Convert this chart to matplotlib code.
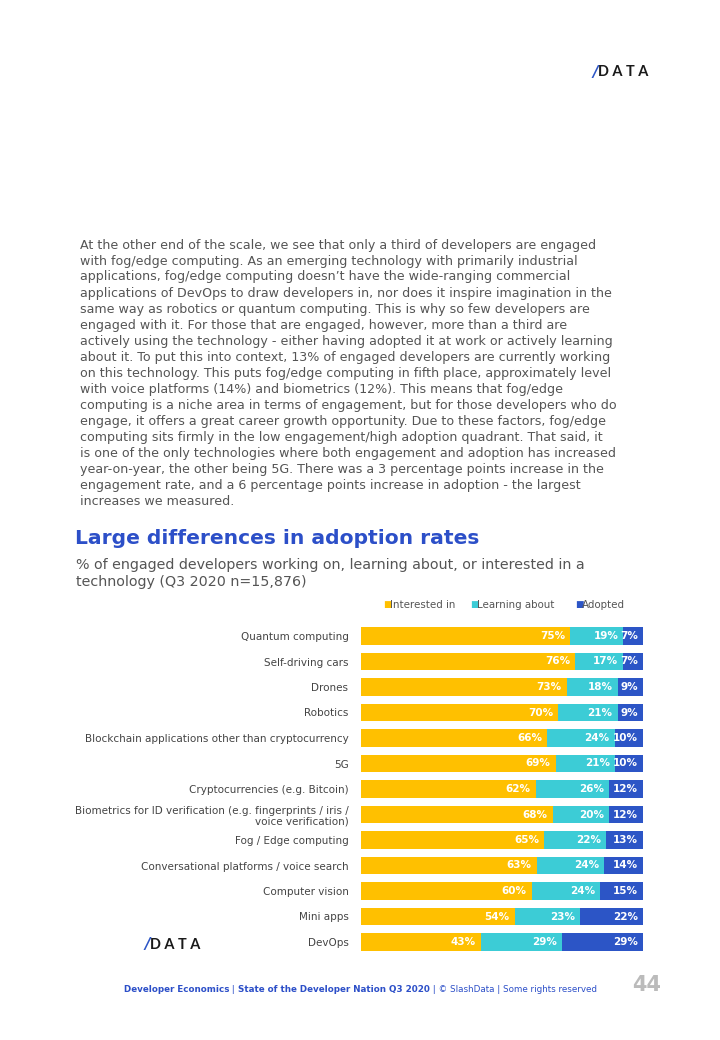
import matplotlib
matplotlib.use("Agg")
import matplotlib.pyplot as plt
import numpy as np

categories = [
    "Quantum computing",
    "Self-driving cars",
    "Drones",
    "Robotics",
    "Blockchain applications other than cryptocurrency",
    "5G",
    "Cryptocurrencies (e.g. Bitcoin)",
    "Biometrics for ID verification (e.g. fingerprints / iris /\nvoice verification)",
    "Fog / Edge computing",
    "Conversational platforms / voice search",
    "Computer vision",
    "Mini apps",
    "DevOps",
]
interested = [75, 76, 73, 70, 66, 69, 62, 68, 65, 63, 60, 54, 43]
learning = [19, 17, 18, 21, 24, 21, 26, 20, 22, 24, 24, 23, 29]
adopted = [7, 7, 9, 9, 10, 10, 12, 12, 13, 14, 15, 22, 29]
series_names = ["Interested in", "Learning about", "Adopted"]
colors = ["#FFC000", "#3CCCD6", "#2C55C6"]

paragraph = [
    "At the other end of the scale, we see that only a third of developers are engaged",
    "with fog/edge computing. As an emerging technology with primarily industrial",
    "applications, fog/edge computing doesn\u2019t have the wide-ranging commercial",
    "applications of DevOps to draw developers in, nor does it inspire imagination in the",
    "same way as robotics or quantum computing. This is why so few developers are",
    "engaged with it. For those that are engaged, however, more than a third are",
    "actively using the technology - either having adopted it at work or actively learning",
    "about it. To put this into context, 13% of engaged developers are currently working",
    "on this technology. This puts fog/edge computing in fifth place, approximately level",
    "with voice platforms (14%) and biometrics (12%). This means that fog/edge",
    "computing is a niche area in terms of engagement, but for those developers who do",
    "engage, it offers a great career growth opportunity. Due to these factors, fog/edge",
    "computing sits firmly in the low engagement/high adoption quadrant. That said, it",
    "is one of the only technologies where both engagement and adoption has increased",
    "year-on-year, the other being 5G. There was a 3 percentage points increase in the",
    "engagement rate, and a 6 percentage points increase in adoption - the largest",
    "increases we measured.",
]

W, H = 720, 1040
fig = plt.figure(figsize=(W / 100, H / 100), dpi=100)
fig.patch.set_facecolor("white")
renderer = fig.canvas.get_renderer()


def fx(px):
    return px / W


def fy(py):
    return 1 - py / H


def chain(x, y, parts, **kw):
    # draws text pieces one after the other on the same line
    for txt, weight in parts:
        t = fig.text(fx(x), fy(y), txt, fontweight=weight, va="center", ha="left", **kw)
        bb = t.get_window_extent(renderer)
        x += bb.width


def logo(x, y, size):
    fig.text(fx(x), fy(y), "/", color="#2C55C6", fontsize=size,
             fontweight="bold", va="center", ha="left", style="italic")
    fig.text(fx(x + size * 0.55), fy(y), "D A T A", color="#1a1a1a", fontsize=size * 0.95,
             fontweight="bold", va="center", ha="left", fontfamily="Lato")


logo(592, 72, 11)
logo(144, 945, 11)

# body text
for i, line in enumerate(paragraph):
    fig.text(fx(80), fy(245 + i * 16), line, fontsize=9.1, color="#555555",
             va="center", ha="left")

fig.text(fx(75), fy(539), "Large differences in adoption rates", fontsize=14.6,
         fontweight="bold", color="#2C4FC8", va="center", ha="left")
fig.text(fx(76), fy(565), "% of engaged developers working on, learning about, or interested in a",
         fontsize=10.3, color="#555555", va="center", ha="left")
fig.text(fx(76), fy(582), "technology (Q3 2020 n=15,876)",
         fontsize=10.3, color="#555555", va="center", ha="left")

# legend
leg_x = [383, 470, 575]
for lx, name, c in zip(leg_x, series_names, colors):
    fig.text(fx(lx), fy(605), "\u25a0", color=c, fontsize=6.5, va="center", ha="left")
    fig.text(fx(lx + 7), fy(605), name, color="#555555", fontsize=7.4, va="center", ha="left")

# chart
ax = fig.add_axes([fx(361), fy(954.75), fx(643) - fx(361), (954.75 - 623.25) / H])
vals = np.array([interested, learning, adopted], dtype=float)
norm = vals / vals.sum(axis=0) * 100
y = np.arange(len(categories))
left = np.zeros(len(categories))
for k in range(3):
    ax.barh(y, norm[k], left=left, color=colors[k], height=0.7)
    for j in range(len(categories)):
        ax.text(left[j] + norm[k][j] - 1.8, y[j], f"{int(vals[k][j])}%",
                color="white", fontsize=7.5, fontweight="bold",
                ha="right", va="center")
    left += norm[k]

ax.set_xlim(0, 100)
ax.set_ylim(len(categories) - 0.5, -0.5)
ax.set_yticks(y)
ax.set_yticklabels(categories, fontsize=7.5, color="#444444", linespacing=1.1)
ax.tick_params(axis="y", length=0, pad=9)
ax.set_xticks([])
for s in ax.spines.values():
    s.set_visible(False)
for lbl in ax.get_yticklabels():
    lbl.set_horizontalalignment("right")

# footer
chain(124, 990, [("Developer Economics", "bold"), (" | ", "normal"),
                 ("State of the Developer Nation Q3 2020", "bold"),
                 (" | \u00a9 SlashData | Some rights reserved", "normal")],
      fontsize=6.3, color="#2C4FC8")
fig.text(fx(632), fy(985), "44", fontsize=15, fontweight="bold", color="#BBBBBB",
         va="center", ha="left")

fig.savefig("out.png", dpi=100, facecolor="white")
